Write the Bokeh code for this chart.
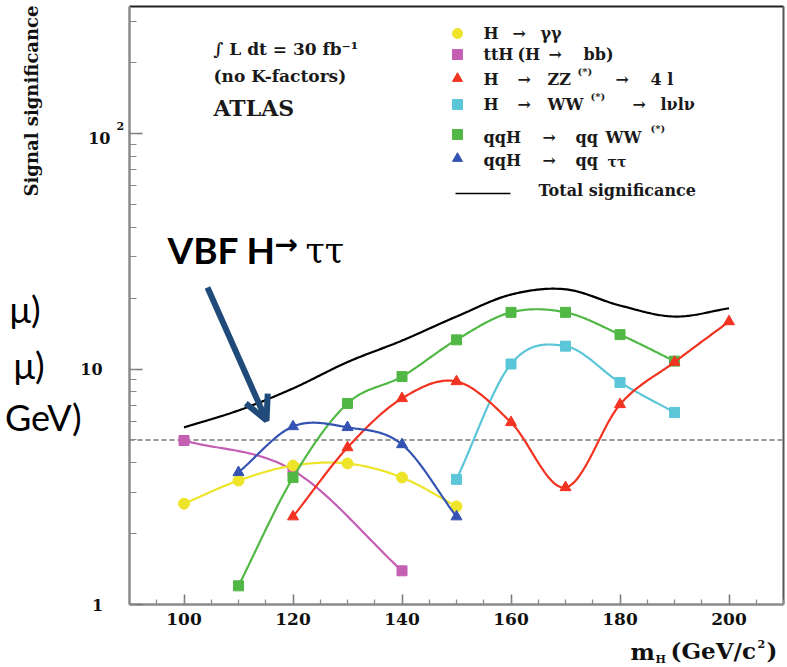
import numpy as np
from bokeh.plotting import figure
from bokeh.models import (Label, Arrow, OpenHead, SingleIntervalTicker,
                          Range1d, CustomJSTickFormatter)
from bokeh.embed import file_html
from bokeh.resources import INLINE

# ---------------- data ----------------
mass_gg = [100, 110, 120, 130, 140, 150]
sig_gg = [2.68, 3.36, 3.89, 3.97, 3.46, 2.61]

mass_tth = [100, 120, 140]
sig_tth = [4.97, 3.71, 1.39]

mass_zz = [120, 130, 140, 150, 160, 170, 180, 190, 200]
sig_zz = [2.36, 4.64, 7.5, 8.85, 5.93, 3.14, 7.07, 10.7, 15.9]

mass_ww = [150, 160, 170, 180, 190]
sig_ww = [3.40, 10.5, 12.5, 8.77, 6.54]

mass_qqww = [110, 120, 130, 140, 150, 160, 170, 180, 190]
sig_qqww = [1.20, 3.46, 7.14, 9.29, 13.3, 17.4, 17.4, 14.0, 10.8]

mass_qqtt = [110, 120, 130, 140, 150]
sig_qqtt = [3.64, 5.70, 5.65, 4.78, 2.36]

mass_total = [100, 110, 120, 130, 140, 150, 160, 170, 180, 190, 200]
sig_total = [5.65, 6.67, 8.27, 10.7, 13.2, 16.7, 20.7, 21.8, 18.6, 16.7, 18.1]

discovery_level = 5
x_ticks_step = 20
y_tick_values = [1, 10, 100]

# ---------------- layout helpers ----------------
W, H = 787, 667
FL, FR, FT, FB = 129, 783, 6, 604          # ROOT frame in page pixels
X0, X1 = 90, 210                            # ROOT frame x range
DEC = 235.5                                 # pixels per decade
YMIN = 1
YMAX = 10 ** ((FB - FT) / DEC)


def px_x(px):
    return X0 + (px - FL) * (X1 - X0) / (FR - FL)


def px_y(py):
    return 10 ** ((FB - py) / DEC)


def smooth(xs, ys, n=40):
    """Cubic Hermite curve through the points, in (x, log10 y)."""
    x = np.asarray(xs, float)
    ly = np.log10(np.asarray(ys, float))
    m = np.zeros_like(ly)
    for i in range(len(x)):
        if i == 0:
            m[i] = (ly[1] - ly[0]) / (x[1] - x[0])
        elif i == len(x) - 1:
            m[i] = (ly[-1] - ly[-2]) / (x[-1] - x[-2])
        else:
            m[i] = (ly[i + 1] - ly[i - 1]) / (x[i + 1] - x[i - 1])
    ox, oy = [], []
    for i in range(len(x) - 1):
        h = x[i + 1] - x[i]
        t = np.linspace(0, 1, n, endpoint=(i == len(x) - 2))
        h00 = 2 * t**3 - 3 * t**2 + 1
        h10 = t**3 - 2 * t**2 + t
        h01 = -2 * t**3 + 3 * t**2
        h11 = t**3 - t**2
        yy = h00 * ly[i] + h10 * h * m[i] + h01 * ly[i + 1] + h11 * h * m[i + 1]
        ox.extend(x[i] + t * h)
        oy.extend(10 ** yy)
    return ox, oy


p = figure(width=W, height=H, y_axis_type="log", title=None,
           x_range=Range1d(px_x(0), px_x(W)), y_range=Range1d(px_y(H), px_y(0)),
           output_backend="svg", toolbar_location=None, min_border=0)
p.background_fill_color = "white"
p.border_fill_color = "white"
p.outline_line_color = None
p.xgrid.visible = False
p.ygrid.visible = False

SERIF = "DejaVu Serif"

# axes, drawn at the ROOT frame edges (ticks inside)
p.xaxis.fixed_location = YMIN
p.yaxis.fixed_location = X0
p.xaxis.bounds = (X0, X1)
p.yaxis.bounds = (YMIN, YMAX)
p.xaxis.ticker = SingleIntervalTicker(interval=x_ticks_step, num_minor_ticks=4)
for ax in (p.xaxis[0], p.yaxis[0]):
    ax.axis_line_color = "#8a8a8a"
    ax.axis_line_width = 2.5
    ax.major_tick_line_color = "#777777"
    ax.minor_tick_line_color = "#888888"
    ax.major_tick_out = 0
    ax.minor_tick_out = 0
    ax.major_tick_line_width = 1.5
    ax.minor_tick_line_width = 1.2
p.xaxis.major_tick_in = 10
p.xaxis.minor_tick_in = 5
p.yaxis.major_tick_in = 13
p.yaxis.minor_tick_in = 7
p.xaxis.major_label_text_font = SERIF
p.xaxis.major_label_text_font_style = "bold"
p.xaxis.major_label_text_font_size = "17px"
p.xaxis.major_label_text_color = "#111111"
p.xaxis.major_label_standoff = 8
p.yaxis.formatter = CustomJSTickFormatter(code="return '';")

# top and right frame edges
p.line([X0, X1], [YMAX, YMAX], line_color="#222222", line_width=2)
p.line([X1, X1], [YMIN, YMAX], line_color="#555555", line_width=2)

# 5 sigma dashed line
p.line([X0, X1], [discovery_level, discovery_level], line_color="#9a9a9a",
       line_dash="5 3", line_width=2)

series = [
    (mass_total, sig_total, "black", None),
    (mass_tth, sig_tth, "#c45fb4", "square"),
    (mass_gg, sig_gg, "#eee42a", "circle"),
    (mass_qqww, sig_qqww, "#52b845", "square"),
    (mass_ww, sig_ww, "#5bc6d8", "square"),
    (mass_zz, sig_zz, "#f23322", "triangle"),
    (mass_qqtt, sig_qqtt, "#3553b3", "triangle"),
]
for xs, ys, col, mk in series:
    cx, cy = smooth(xs, ys)
    p.line(cx, cy, line_color=col, line_width=2.2)
    if mk:
        p.scatter(xs, ys, marker=mk, size=11 if mk != "square" else 10,
                  fill_color=col, line_color=col)

# ---------------- legend (drawn by hand, ROOT style) ----------------
leg_marks = [("circle", "#eee42a", 33), ("square", "#c45fb4", 54),
             ("triangle", "#f23322", 78), ("square", "#5bc6d8", 104),
             ("square", "#52b845", 134), ("triangle", "#3553b3", 158)]
for mk, col, yy in leg_marks:
    p.scatter([px_x(457)], [px_y(yy)], marker=mk, size=10, fill_color=col, line_color=col)
p.line([px_x(455), px_x(510)], [px_y(193), px_y(193)], line_color="black", line_width=1.5)

leg_text = [
    ("H", 483, 33, 16), ("→", 512, 33, 16), ("γγ", 540, 33, 16),
    ("ttH", 483, 54, 16), ("(H", 517, 54, 16), ("→", 548, 54, 16), ("bb)", 583, 54, 16),
    ("H", 483, 79, 16), ("→", 517, 79, 16), ("ZZ", 547, 79, 16), ("(*)", 577, 71, 10),
    ("→", 615, 79, 16), ("4 l", 650, 79, 16),
    ("H", 483, 104, 16), ("→", 517, 104, 16), ("WW", 547, 104, 16), ("(*)", 590, 96, 10),
    ("→", 632, 104, 16), ("lνlν", 660, 104, 16),
    ("qqH", 483, 137, 16), ("→", 542, 137, 16), ("qq", 575, 137, 16), ("WW", 605, 137, 16),
    ("(*)", 650, 128, 10),
    ("qqH", 483, 160, 16), ("→", 542, 160, 16), ("qq", 575, 160, 16), ("ττ", 607, 161, 14),
    ("Total significance", 538, 190, 16),
]
for txt, xx, yy, fs in leg_text:
    p.add_layout(Label(x=px_x(xx), y=px_y(yy), text=txt, text_font=SERIF,
                       text_font_style="bold", text_font_size=f"{fs}px",
                       text_align="left", text_baseline="middle", text_color="#1a1a1a"))

# top-left info text
for txt, yy, fs in [("∫ L dt = 30 fb⁻¹", 48, 17), ("(no K-factors)", 75, 17), ("ATLAS", 107, 22)]:
    p.add_layout(Label(x=px_x(213), y=px_y(yy), text=txt, text_font=SERIF,
                       text_font_style="bold", text_font_size=f"{fs}px",
                       text_align="left", text_baseline="middle", text_color="#1a1a1a"))

# y tick labels (ROOT style placement)
ytl = [("1", 97, y_tick_values[0], 16, "center", 0),
       ("10", 91, y_tick_values[1], 16, "center", 0),
       ("10", 110, y_tick_values[2], 16, "right", -4),
       ("2", 116, y_tick_values[2], 11, "left", 8)]
for txt, xx, yv, fs, al, dy in ytl:
    p.add_layout(Label(x=px_x(xx), y=yv, y_offset=dy, text=txt, text_font=SERIF,
                       text_font_style="bold", text_font_size=f"{fs}px",
                       text_align=al, text_baseline="middle", text_color="#111111"))

# axis titles
p.add_layout(Label(x=px_x(31), y=px_y(5), text="Signal significance", angle=np.pi / 2,
                   text_font=SERIF, text_font_style="bold", text_font_size="18px",
                   text_align="right", text_baseline="middle", text_color="#111111"))
for txt, xx, yy, fs in [("m", 630, 651, 23), ("H", 655, 659, 11), ("(GeV/c", 670, 650, 23),
                        ("2", 757, 643, 11), (")", 766, 650, 23)]:
    p.add_layout(Label(x=px_x(xx), y=px_y(yy), text=txt, text_font=SERIF,
                       text_font_style="bold", text_font_size=f"{fs}px",
                       text_align="left", text_baseline="middle", text_color="#111111"))

# slide annotation
p.add_layout(Label(x=px_x(167), y=px_y(249), text="VBF H", text_font="Lato",
                   text_font_style="bold", text_font_size="37px", text_align="left",
                   text_baseline="middle", text_color="black"))
p.add_layout(Label(x=px_x(274), y=px_y(244), text="→", text_font="DejaVu Sans",
                   text_font_style="bold", text_font_size="28px", text_align="left",
                   text_baseline="middle", text_color="black"))
p.add_layout(Label(x=px_x(305), y=px_y(250), text="ττ", text_font="DejaVu Serif",
                   text_font_size="35px", text_align="left",
                   text_baseline="middle", text_color="black"))
p.add_layout(Arrow(end=OpenHead(size=24, line_color="#1f4a7a", line_width=6),
                   x_start=px_x(207), y_start=px_y(287), x_end=px_x(266), y_end=px_y(420),
                   line_color="#1f4a7a", line_width=6))

# cut-off slide text at the left edge
for txt, xx, yy in [("μ)", 40, 308), ("μ)", 44, 364), ("GeV)", 81, 416)]:
    p.add_layout(Label(x=px_x(xx), y=px_y(yy), text=txt, text_font="Lato",
                       text_font_size="36px", text_align="right",
                       text_baseline="middle", text_color="black"))

open("out.html", "w").write(file_html(p, INLINE))
